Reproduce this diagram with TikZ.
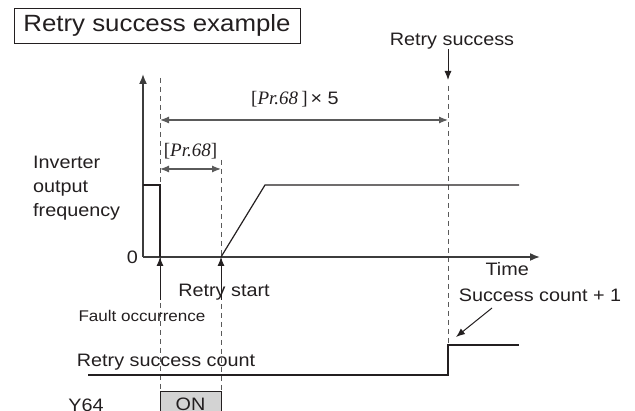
\documentclass[tikz,border=0pt]{standalone}
\usepackage{fontspec}
\setmainfont{Liberation Sans}[FakeStretch=1.1]
\newfontfamily\prfont{Liberation Serif}
\usetikzlibrary{arrows.meta,positioning,calc}
\definecolor{ink}{HTML}{231F20}
\definecolor{axisgray}{HTML}{3C3C3C}
\definecolor{linegray}{HTML}{5A5A5A}
\definecolor{onfill}{HTML}{D3D3D3}

\begin{document}
\begin{tikzpicture}[
  x=1pt, y=-1pt,
  lbl/.style={text=ink, font=\fontsize{18}{24}\selectfont, inner sep=0pt},
  small/.style={text=ink, font=\fontsize{15.5}{18}\selectfont, inner sep=0pt},
  wave/.style={ink, line width=1.2pt},
  axis/.style={axisgray, line width=1.6pt, -{Latex[length=10pt,width=8pt]}},
  guideline/.style={linegray, line width=0.9pt, dash pattern=on 5pt off 4pt},
  dim/.style={linegray, line width=1.2pt,
    {Latex[length=9pt,width=7pt]}-{Latex[length=9pt,width=7pt]}},
  ptr/.style={ink, line width=1pt, -{Latex[length=9pt,width=7pt]}}
]
  \useasboundingbox (0,0) rectangle (635,411);

  \node[draw=ink, line width=0.9pt, minimum width=286pt, minimum height=35pt,
    text=ink, font=\fontsize{23.5}{27}\selectfont] (title) at (157,25.5)
    {Retry success example};

  % key instants
  \coordinate (origin) at (143,257);
  \coordinate (fault) at (160,257);
  \coordinate (restart) at (221,257);
  \coordinate (success) at (448,257);

  % guides
  \draw[guideline] (160,78) -- (160,391);
  \draw[guideline] (221,160) -- (221,391);
  \draw[guideline] (448,86) -- (448,345);

  % axes
  \draw[axis] (origin) -- (143,74);
  \draw[axis] (origin) -- (540,257);
  \node[lbl, anchor=east] (zero) at (138,257) {0};
  \node[lbl, anchor=base east] (time) at (529,276) {Time};
  \node[lbl, align=left, anchor=west] (freq) at (33,188)
    {Inverter\\output\\frequency};

  % output frequency
  \draw[wave] (143,185) -- (160,185) -- (fault);
  \draw[wave] (restart) -- (265,185) -- (519,185);

  % dimensions
  \coordinate (d5a) at (160,120);
  \coordinate (d5b) at (448,120);
  \draw[dim] (d5a) -- (d5b);
  \node[lbl, anchor=base] (pr5) at (295,105)
    {{\prfont\fontsize{19}{24}\selectfont[\textit{Pr.68}\,]}\,\texttimes\ 5};
  \coordinate (d1a) at (160,169);
  \coordinate (d1b) at (221,169);
  \draw[dim] (d1a) -- (d1b);
  \node[lbl, anchor=base] (pr1) at (190.5,157)
    {\prfont\fontsize{19}{24}\selectfont[\textit{Pr.68}]};

  % events
  \node[lbl] (rsucc) at (452,41) {Retry success};
  \coordinate (rstip) at (448,80);
  \draw[ptr] (rsucc.south -| rstip) -- (rstip);
  \draw[ptr] (160,300) -- (fault);
  \draw[ptr] (221,300) -- (restart);
  \node[lbl, anchor=base] (rstart) at (224,297) {Retry start};
  \node[small, anchor=base] (faultlbl) at (142,321.5) {Fault occurrence};

  % success count
  \node[lbl, anchor=base] (count) at (166,367) {Retry success count};
  \draw[wave] (88,375) -- (448,375) -- (448,345) -- (519,345);
  \node[lbl, anchor=base] (plus) at (540,302) {Success count + 1};
  \coordinate (plustip) at (456,337);
  \draw[ptr] (492,308) -- (plustip);

  % Y64
  \node[lbl] (y64) at (86,405) {Y64};
  \node[draw=ink, line width=0.9pt, fill=onfill, minimum width=61pt,
    minimum height=26pt, lbl] (on) at (190.5,404) {ON};
\end{tikzpicture}
\end{document}
